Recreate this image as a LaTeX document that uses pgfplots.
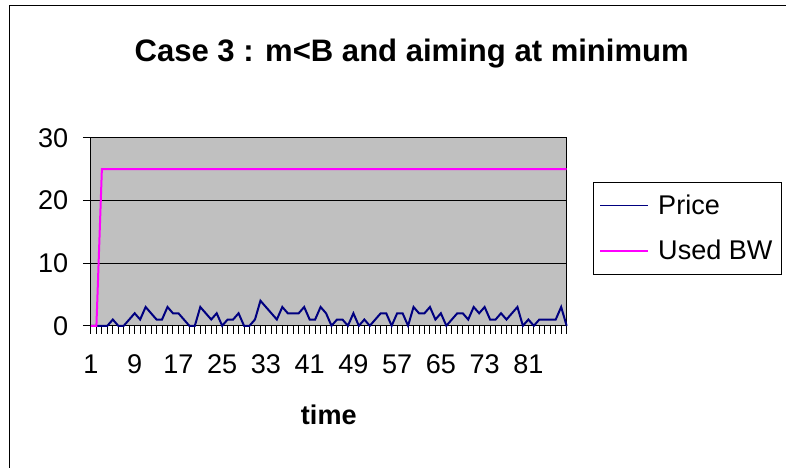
\documentclass[border=0pt]{standalone}
\usepackage{pgfplots}
\pgfplotsset{compat=1.18}
\usepackage{fontspec}
\setmainfont{Liberation Sans}
\definecolor{plotgray}{HTML}{C0C0C0}
\definecolor{navyline}{HTML}{000080}
\definecolor{magline}{HTML}{FF00FF}
\begin{document}
\begin{tikzpicture}
\path (0pt,0pt) rectangle (589.5pt,351pt);
\draw[black,line width=0.75pt] (7.5pt,0pt) -- (7.5pt,346.5pt) -- (589.5pt,346.5pt);
\node[font=\fontsize{23.3}{28}\selectfont\bfseries] at (309pt,310.5pt) {Case 3 : m<B and aiming at minimum};
\begin{axis}[
  at={(68.25pt,106.5pt)}, anchor=south west,
  scale only axis, width=357pt, height=141pt,
  xmin=1, xmax=88, ymin=0, ymax=30,
  xtick={1,9,...,81}, minor xtick={1,...,88},
  ytick={0,10,20,30},
  tick pos=left,
  tick align=outside, major tick length=6pt, minor tick length=6pt,
  tick style={black, line width=0.75pt},
  ymajorgrids, grid style={black, line width=0.75pt},
  axis background/.style={fill=plotgray},
  axis line style={black, line width=0.75pt},
  tick label style={font=\fontsize{20.3}{21}\selectfont},
  xticklabel style={yshift=-12pt},
  yticklabel style={xshift=-7.5pt},
  /pgf/number format/assume math mode=true,
  xlabel={\textbf{time}},
  xlabel style={font=\fontsize{20.3}{21}\selectfont, at={(axis description cs:0.5,-0.473)}, anchor=center},
  clip=false,
  legend style={at={(1.0545,0.7676)}, anchor=north west, draw=black, fill=white,
    line width=0.75pt, font=\fontsize{20.3}{21}\selectfont,
    row sep=13.8pt, column sep=5pt, inner xsep=4.8pt, inner ysep=7.6pt},
  legend cell align=left,
  legend image code/.code={\draw[#1, line width=1.1pt] (0pt,0pt) -- (36pt,0pt);},
]
\addplot[navyline, line width=1.5pt] coordinates {
(1,0)(2,0)(3,0)(4,0)(5,1)(6,0)(7,0)(8,1)(9,2)(10,1)
(11,3)(12,2)(13,1)(14,1)(15,3)(16,2)(17,2)(18,1)(19,0)(20,0)
(21,3)(22,2)(23,1)(24,2)(25,0)(26,1)(27,1)(28,2)(29,0)(30,0)
(31,1)(32,4)(33,3)(34,2)(35,1)(36,3)(37,2)(38,2)(39,2)(40,3)
(41,1)(42,1)(43,3)(44,2)(45,0)(46,1)(47,1)(48,0)(49,2)(50,0)
(51,1)(52,0)(53,1)(54,2)(55,2)(56,0)(57,2)(58,2)(59,0)(60,3)
(61,2)(62,2)(63,3)(64,1)(65,2)(66,0)(67,1)(68,2)(69,2)(70,1)
(71,3)(72,2)(73,3)(74,1)(75,1)(76,2)(77,1)(78,2)(79,3)(80,0)
(81,1)(82,0)(83,1)(84,1)(85,1)(86,1)(87,3)(88,0)};
\addlegendentry{Price}
\addplot[magline, line width=1.5pt] coordinates {
(1,0)(2,0)(3,25)(88,25)};
\addlegendentry{Used BW}
\end{axis}
\end{tikzpicture}
\end{document}
